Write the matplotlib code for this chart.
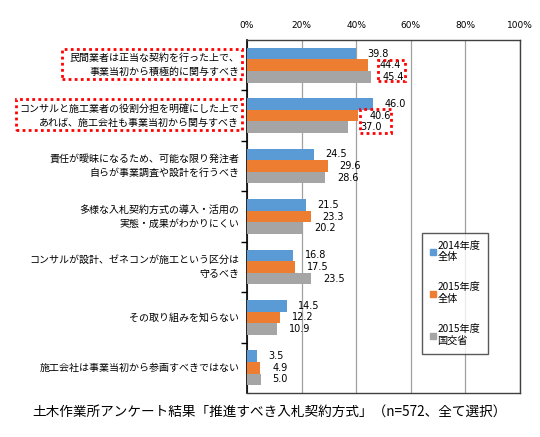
import matplotlib.pyplot as plt
from matplotlib.patches import Rectangle
from matplotlib.lines import Line2D

plt.rcParams['font.family'] = ['Noto Sans CJK JP', 'DejaVu Sans']

categories = [
    "民間業者は正当な契約を行った上で、\n事業当初から積極的に関与すべき",
    "コンサルと施工業者の役割分担を明確にした上で\nあれば、施工会社も事業当初から関与すべき",
    "責任が曖昧になるため、可能な限り発注者\n自らが事業調査や設計を行うべき",
    "多様な入札契約方式の導入・活用の\n実態・成果がわかりにくい",
    "コンサルが設計、ゼネコンが施工という区分は\n守るべき",
    "その取り組みを知らない",
    "施工会社は事業当初から参画すべきではない",
]
series_names = ["2014年度\n全体", "2015年度\n全体", "2015年度\n国交省"]
v2014 = [39.8, 46.0, 24.5, 21.5, 16.8, 14.5, 3.5]
v2015 = [44.4, 40.6, 29.6, 23.3, 17.5, 12.2, 4.9]
v2015_mlit = [45.4, 37.0, 28.6, 20.2, 23.5, 10.9, 5.0]
xticks = [0, 20, 40, 60, 80, 100]
title = "土木作業所アンケート結果「推進すべき入札契約方式」（n=572、全て選択）"

colors = ["#5B9BD5", "#ED7D31", "#A5A5A5"]
W, H = 540, 437

fig = plt.figure(figsize=(W / 100, H / 100), dpi=100)
ax = fig.add_axes([247 / W, 1 - 393 / H, (520 - 247) / W, (393 - 40) / H])

bh = 0.23
ypos = list(range(len(categories)))
for k, vals in enumerate([v2014, v2015, v2015_mlit]):
    ys = [y + (k - 1) * bh for y in ypos]
    ax.barh(ys, vals, height=bh, color=colors[k], zorder=3)
    for y, v in zip(ys, vals):
        ax.annotate(f"{v:.1f}", (v, y), xytext=(8.5, 0), textcoords='offset points',
                    ha='left', va='center', fontsize=7, family=['DejaVu Sans'])

ax.set_xlim(0, 100)
ax.set_ylim(len(categories) - 0.5, -0.5)
ax.set_xticks(xticks)
ax.set_xticklabels([f"{t}%" for t in xticks], fontsize=6.5, family=['DejaVu Sans'])
ax.xaxis.tick_top()
ax.tick_params(axis='x', length=0, pad=7)
ax.set_yticks([y + 0.5 for y in ypos[:-1]])
ax.set_yticklabels([])
ax.tick_params(axis='y', direction='out', length=4, width=1)
ax.grid(axis='x', color='#A0A0A0', lw=0.9, zorder=0)
for s in ['top', 'right', 'bottom']:
    ax.spines[s].set_color('#404040')
    ax.spines[s].set_linewidth(1.0)
ax.spines['left'].set_color('black')
ax.spines['left'].set_linewidth(1.2)

for y, lab in zip(ypos, categories):
    ax.text(-0.028, y, lab, transform=ax.get_yaxis_transform(), ha='right', va='center',
            fontsize=7.2, linespacing=1.5)

handles = [Line2D([], [], marker='s', color=c, ls='', markersize=4) for c in colors]
leg = ax.legend(handles, series_names, loc='upper left',
                bbox_to_anchor=(422 / W, 1 - 233 / H), bbox_transform=fig.transFigure,
                fontsize=7.3, labelspacing=2.0, handletextpad=0.15, handlelength=0.6,
                borderpad=0.75, borderaxespad=0, fancybox=False, frameon=True)
leg.get_frame().set_edgecolor('#303030')
leg.get_frame().set_linewidth(1.0)
leg.set_zorder(5)

# red dotted highlight boxes (figure pixel coordinates)
for x0, y0, x1, y1 in [(62, 49, 242, 79), (16, 99, 242, 130),
                       (378, 60, 405, 81), (360, 109, 391, 133)]:
    fig.patches.append(Rectangle((x0 / W, 1 - y1 / H), (x1 - x0) / W, (y1 - y0) / H,
                                 transform=fig.transFigure, fill=False, ec='red',
                                 ls=(0, (1, 1.2)), lw=2.0))

fig.text(270 / W, 1 - 412 / H, title, ha='center', va='center', fontsize=9.8)

fig.savefig("out.png", dpi=100)
